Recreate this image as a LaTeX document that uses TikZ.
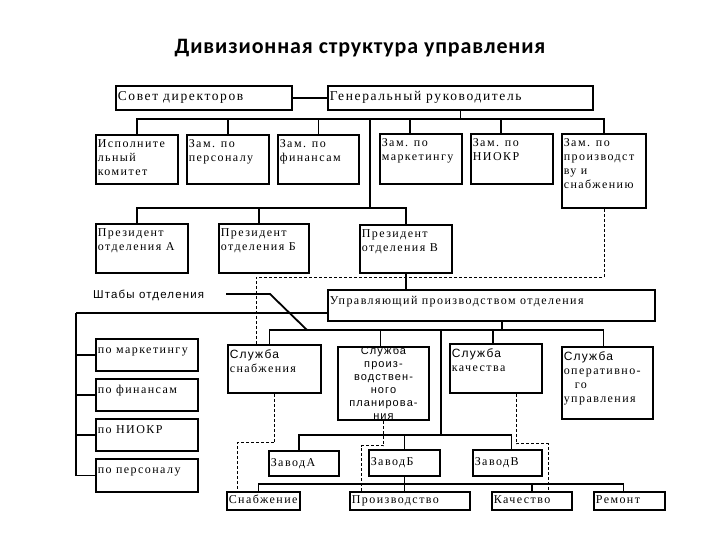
\documentclass[tikz,border=0pt]{standalone}
\usepackage{fontspec}
\setmainfont{Liberation Serif}[LetterSpace=12]
\newfontfamily\sansf{Liberation Sans}[LetterSpace=10]
\newfontfamily\titlef{Carlito}[LetterSpace=4]
\tikzset{
  boxst/.style={draw, line width=1.8pt, inner sep=0pt},
  txt/.style={inner sep=2.5pt, align=left, font=\fontsize{12}{14}\selectfont, execute at begin node=\strut},
  bigtxt/.style={font=\fontsize{13.5}{15}\selectfont},
  conn/.style={line width=1.8pt},
  dsh/.style={line width=1pt, dash pattern=on 3pt off 2pt},
}
% box with text at top left
\newcommand\bx[7][]{%
  \node[boxst, minimum width={(#5-#3)*1pt}, minimum height={(#6-#4)*1pt}] (#2) at ({(#3+#5)/2},{(#4+#6)/2}) {};
  \node[txt, #1, anchor=north west, yshift=-2.5pt] (#2t) at (#2.north west) {#7};}
% box with text at left, vertically centred
\newcommand\bxc[7][]{%
  \node[boxst, minimum width={(#5-#3)*1pt}, minimum height={(#6-#4)*1pt}] (#2) at ({(#3+#5)/2},{(#4+#6)/2}) {};
  \node[txt, #1, anchor=west] (#2t) at (#2.west) {#7};}
\begin{document}
\begin{tikzpicture}[x=1pt,y=-1pt]
\useasboundingbox (0,0) rectangle (720,540);
\node[font=\titlef\bfseries\fontsize{22}{24}\selectfont] (title) at (360,48) {Дивизионная структура управления};

% row 1
\bxc[bigtxt]{sovet}{116}{86}{292}{110}{Совет директоров}
\bxc[bigtxt]{gen}{328}{86}{593}{110}{Генеральный руководитель}
% row 2
\bx{isp}{96}{135}{178}{184}{Исполните\\льный\\комитет}
\bx{zpers}{187}{135}{269}{184}{Зам. по\\персоналу}
\bx{zfin}{278}{135}{359}{184}{Зам. по\\финансам}
\bx{zmkt}{380}{134}{462}{184}{Зам. по\\маркетингу}
\bx{zniokr}{471}{134}{553}{184}{Зам. по\\НИОКР}
\bx{zpr}{562}{134}{646}{208}{Зам. по\\производст\\ву и\\снабжению}
% row 3
\bx{presA}{96}{224}{188}{273}{Президент\\отделения А}
\bx{presB}{219}{224}{309}{273}{Президент\\отделения Б}
\bx{presV}{360}{225}{452}{273}{Президент\\отделения В}
% manager
\bx{upr}{328}{290}{655}{321}{Управляющий производством отделения}
% staffs
\node[font=\sansf\fontsize{11.5}{14}\selectfont, anchor=west, inner sep=0pt] (shtab) at (93,295) {Штабы отделения};
\bx{pMkt}{96}{339}{198}{371}{по маркетингу}
\bx{pFin}{96}{379}{198}{411}{по финансам}
\bx{pNiokr}{96}{419}{198}{451}{по НИОКР}
\bx{pPers}{96}{459}{198}{492}{по персоналу}
% services
\bx{sSn}{228}{345}{321}{393}{{\sansf Служба}\\снабжения}
\node[font=\sansf\fontsize{11}{13}\selectfont, align=center, inner sep=0pt] (sPlt) at (383.5,382.5) {Служба\\произ-\\водствен-\\ного\\планирова-\\ния};
\node[boxst, minimum width=91pt, minimum height=73pt] (sPl) at (383.5,383.5) {};
\bx{sKa}{450}{344}{542}{393}{{\sansf Служба}\\качества}
\bx{sOp}{562}{347}{653}{419}{{\sansf Служба}\\оперативно-\\\hspace*{11pt}го\\управления}
% plants
\bxc{zA}{269}{451}{339}{476}{ЗаводА}
\bxc{zB}{369}{450}{440}{476}{ЗаводБ}
\bxc{zV}{473}{450}{542}{476}{ЗаводВ}
% bottom row
\bxc{bSn}{227}{492}{300}{510}{Снабжение}
\bxc{bPr}{350}{492}{470}{510}{Производство}
\bxc{bKa}{492}{492}{572}{510}{Качество}
\bxc{bRe}{594}{492}{665}{510}{Ремонт}

% ---- connectors ----
\draw[conn] (sovet.east) -- (gen.west);
\coordinate (b1) at (460.5,119);
\draw[conn] (gen.south) -- (b1);
\draw[conn] (isp.north) |- (zpr.north |- b1) -- (zpr.north);
\draw[conn] (zpers.north) -- (zpers.north |- b1);
\draw[conn] (zfin.north) -- (zfin.north |- b1);
\draw[conn] ([xshift=-11pt]zmkt.north) -- ([xshift=-11pt]zmkt.north |- b1);
\draw[conn] ([xshift=-11pt]zniokr.north) -- ([xshift=-11pt]zniokr.north |- b1);
\coordinate (b2) at (370,208);
\draw[conn] (b1 -| b2) -- (b2);
\draw[conn] ([xshift=-5pt]presA.north) |- (presV.north |- b2) -- (presV.north);
\draw[conn] ([xshift=-5pt]presB.north) -- ([xshift=-5pt]presB.north |- b2);
\draw[conn] (presV.south) -- (presV.south |- upr.north);
% staff bracket
\coordinate (L) at (76,313);
\draw[conn] (L) -- (L -| upr.west);
\draw[conn] (L) |- (pPers.west);
\draw[conn] (pMkt.west) -- (pMkt.west -| L);
\draw[conn] (pFin.west) -- (pFin.west -| L);
\draw[conn] (pNiokr.west) -- (pNiokr.west -| L);
\coordinate (sh1) at (226,294);
\coordinate (sh2) at (270,294);
\coordinate (sh3) at (307,330);
\draw[conn] (sh1) -- (sh2) -- (sh3);
% services bus
\coordinate (b3) at (502,330);
\draw[conn] (upr.south -| b3) -- (b3);
\draw[conn] ([xshift=-5pt]sSn.north) |- ([xshift=-4pt]sOp.north |- b3) -- ([xshift=-4pt]sOp.north);
\draw[conn] ([xshift=-3pt]sPl.north) -- ([xshift=-3pt]sPl.north |- b3);
\draw[conn] ([xshift=-3pt]sKa.north) -- ([xshift=-3pt]sKa.north |- b3);
% plants bus
\coordinate (b4) at (441,435);
\draw[conn] (b4 |- b3) -- (b4);
\draw[conn] ([xshift=-5pt]zA.north) |- ([xshift=4pt]zV.north |- b4) -- ([xshift=4pt]zV.north);
\draw[conn] (zB.north) -- (zB.north |- b4);
% bottom bus
\coordinate (b5) at (404,484);
\draw[conn] (zB.south) -- (zB.south |- bPr.north);
\draw[conn] ([xshift=-5pt]bSn.north) |- ([xshift=-6pt]bRe.north |- b5) -- ([xshift=-6pt]bRe.north);
\draw[conn] (bKa.north) -- (bKa.north |- b5);
% dashed links
\coordinate (ds) at (0,277);
\draw[dsh] (zpr.south) -- (zpr.south |- ds) -| ([xshift=-18.5pt]sSn.north);
\draw[dsh] (sSn.south) -- ++(0,49) -| ([xshift=-26.5pt]bSn.north);
\draw[dsh] (sPl.south) -- ++(0,25) -| ([xshift=-49pt]bPr.north);
\draw[dsh] ([xshift=20pt]sKa.south) -- ++(0,50) -| ([xshift=16pt]bKa.north);
\end{tikzpicture}
\end{document}
